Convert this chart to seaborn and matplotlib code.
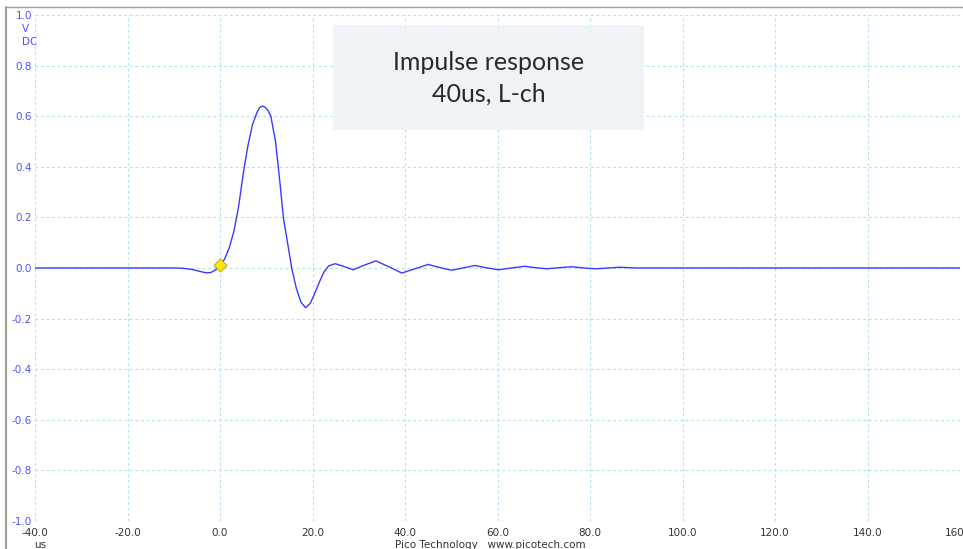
"""Recreate a PicoScope capture: impulse response, 40us, L-ch."""

import matplotlib.pyplot as plt
import numpy as np
import pandas as pd
import seaborn as sns
from matplotlib.lines import Line2D
from matplotlib.patches import Rectangle

# time (us) and voltage (V)
TIME_US = [
    -40, -30, -20, -10, -8, -6, -4, -3, -2, -1, 0, 1, 2, 3, 4, 5, 6, 7, 8, 8.6, 9.2,
    9.8, 10.4, 11, 12, 12.6, 13, 13.7, 14.6, 15.5, 16.5, 17.5, 18.5, 19.5, 20.5,
    21.5, 22.5, 23.5, 24.9, 26.5, 28.8, 31, 33.7, 36.5, 39.3, 42, 45, 47.5,
    50.1, 52.5, 55.1, 57.5, 60.2, 63, 65.9, 68.3, 70.6, 73.3, 76, 78.7, 81.4,
    84, 86.5, 90, 100, 120, 140, 160,
]
VOLTS = [
    0.0, 0.0, 0.0, 0.0, -0.001, -0.006, -0.015, -0.019, -0.018, -0.008, 0.01,
    0.035, 0.08, 0.145, 0.24, 0.37, 0.48, 0.565, 0.615, 0.635, 0.64,
    0.635, 0.622, 0.6, 0.5, 0.4, 0.33, 0.2, 0.1, 0.0, -0.08, -0.135, -0.157,
    -0.14, -0.1, -0.055, -0.015, 0.008, 0.017, 0.008, -0.007, 0.01, 0.028,
    0.005, -0.02, -0.004, 0.014, 0.002, -0.009, 0.0, 0.01, 0.001, -0.007,
    0.0, 0.007, 0.001, -0.003, 0.001, 0.005, 0.0, -0.003, 0.0, 0.003, 0.0,
    0.0, 0.0, 0.0, 0.0,
]
MARKER_T = [0.0]
MARKER_V = [0.01]

X_TICKS = [-40, -20, 0, 20, 40, 60, 80, 100, 120, 140, 160]
Y_TICKS = [-1.0, -0.8, -0.6, -0.4, -0.2, 0.0, 0.2, 0.4, 0.6, 0.8, 1.0]

TRACE_BLUE = "#3a3aff"
AXIS_BLUE = "#5050ff"
GRID_COLOR = "#b3e0ee"


def main():
    sns.set_theme(style="white")
    plt.rcParams["font.family"] = ["DejaVu Sans"]

    df = pd.DataFrame({"t": TIME_US, "v": VOLTS})

    fig = plt.figure(figsize=(9.63, 5.49), dpi=100)
    ax = fig.add_axes([35 / 963, 1 - 521 / 549, 925 / 963, 506 / 549])

    sns.lineplot(data=df, x="t", y="v", color=TRACE_BLUE, linewidth=1.0, ax=ax)
    ax.scatter(MARKER_T, MARKER_V, marker="D", s=45, color="#ffe600",
               edgecolor="#9a9a60", linewidth=0.6, zorder=5)

    ax.set_xlim(-40, 160)
    ax.set_ylim(-1.0, 1.0)
    ax.set_xticks(X_TICKS)
    ax.set_yticks(Y_TICKS)
    ax.set_xticklabels([f"{v:.1f}" for v in X_TICKS], color="#333333", fontsize=7.5)
    ax.set_yticklabels([f"{v:.1f}" for v in Y_TICKS], color=AXIS_BLUE, fontsize=7.5)
    ax.tick_params(axis="both", length=0, pad=2)
    ax.tick_params(axis="x", pad=5)
    ax.set_xlabel("")
    ax.set_ylabel("")
    for spine in ax.spines.values():
        spine.set_visible(False)
    ax.grid(True, color=GRID_COLOR, linestyle=(0, (2.5, 2.5)), linewidth=0.8)
    ax.set_axisbelow(True)

    # unit labels under the 1.0 tick and under the -40 tick
    fig.text(22 / 963, 1 - 29 / 549, "V", color=AXIS_BLUE, fontsize=7.5,
             ha="left", va="center")
    fig.text(22 / 963, 1 - 42 / 549, "DC", color=AXIS_BLUE, fontsize=7.5,
             ha="left", va="center")
    fig.text(40 / 963, 1 - 545 / 549, "us", color="#333333", fontsize=7.5,
             ha="center", va="center")
    fig.text(490 / 963, 1 - 545 / 549, "Pico Technology   www.picotech.com",
             color="#333333", fontsize=7.5, ha="center", va="center")

    # annotation box
    box = Rectangle((333 / 963, 1 - 130 / 549), 311 / 963, 105 / 549,
                    transform=fig.transFigure, facecolor="#eef3f8", alpha=0.85,
                    edgecolor="none", zorder=3)
    fig.add_artist(box)
    fig.text(489 / 963, 1 - 62 / 549, "Impulse response", fontsize=18,
             family=["Lato", "DejaVu Sans"], fontweight="normal",
             color="#2a2a2a", ha="center", va="center", zorder=4)
    fig.text(489 / 963, 1 - 94 / 549, "40us, L-ch", fontsize=18,
             family=["Lato", "DejaVu Sans"], fontweight="normal",
             color="#2a2a2a", ha="center", va="center", zorder=4)

    # window frame on the left and top
    fig.add_artist(Line2D([6 / 963, 6 / 963], [0, 1 - 7 / 549], transform=fig.transFigure,
                          color="#a39d94", linewidth=1.5))
    fig.add_artist(Line2D([6 / 963, 1], [1 - 7 / 549, 1 - 7 / 549], transform=fig.transFigure,
                          color="#a39d94", linewidth=1.0))

    fig.savefig("out.png", dpi=100)
    plt.close(fig)


if __name__ == "__main__":
    main()
